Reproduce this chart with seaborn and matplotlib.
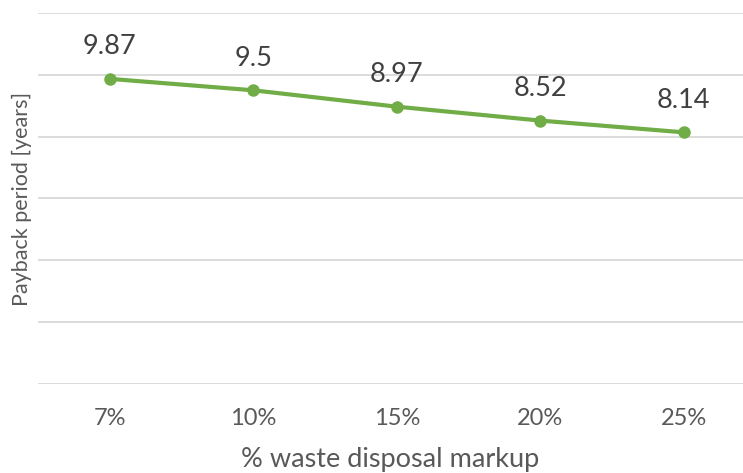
import matplotlib
matplotlib.use("Agg")
import matplotlib.pyplot as plt
import seaborn as sns
import pandas as pd

markups = ["7%", "10%", "15%", "20%", "25%"]
payback_years = [9.87, 9.5, 8.97, 8.52, 8.14]

df = pd.DataFrame({"markup": markups, "payback": payback_years})

sns.set_theme(style="white")
plt.rcParams["font.family"] = ["Lato", "DejaVu Sans"]

fig = plt.figure(figsize=(7.43, 4.73), dpi=100)
ax = fig.add_axes([38 / 743, 89 / 473, 705 / 743, 371 / 473])

green = "#70AD47"
sns.lineplot(data=df, x="markup", y="payback", ax=ax, color=green,
             linewidth=3, marker="o", markersize=9, markeredgewidth=0,
             sort=False)

ax.set_ylim(0, 12)
ax.set_yticks(range(0, 13, 2))
ax.set_xlim(-0.5, 4.413)
ax.yaxis.grid(True, color="#D9D9D9", linewidth=1.3)
ax.set_axisbelow(True)
for s in ax.spines.values():
    s.set_visible(False)
ax.tick_params(axis="y", left=False, labelleft=False)
ax.tick_params(axis="x", bottom=False, labelsize=17, colors="#595959", pad=11)

for i, v in enumerate(payback_years):
    ax.annotate(f"{v:g}", (i, v), xytext=(0, 23), textcoords="offset points",
                ha="center", va="center", fontsize=19.5, color="#404040")

ax.set_xlabel("% waste disposal markup", fontsize=19.5, color="#595959")
ax.xaxis.set_label_coords(0.5, -63 / 371)
ax.set_ylabel("Payback period [years]", fontsize=15.5, color="#595959")
ax.yaxis.set_label_coords(-6 / 705, 0.5)

fig.savefig("out.png", dpi=100)
